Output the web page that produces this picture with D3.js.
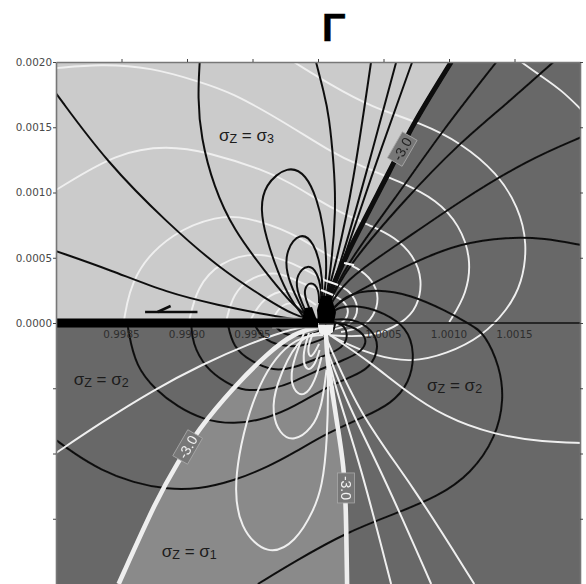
<!DOCTYPE html>
<html><head><meta charset="utf-8">
<script src="https://cdnjs.cloudflare.com/ajax/libs/d3/7.8.5/d3.min.js"></script>
<style>html,body{margin:0;padding:0;background:#fff;overflow:hidden}svg{display:block}</style>
</head><body><div id="chart"></div>
<script>
// All curves: [offset of x from 1, y], both in units of 1e-3.
const xTicks = [0.9985,0.9990,0.9995,1.0000,1.0005,1.0010,1.0015];
const xTickLabels = ["0.9985","0.9990","0.9995","1.0005","1.0010","1.0015"];
const xLabelValues = [0.9985,0.9990,0.9995,1.0005,1.0010,1.0015];
const yTicks = [0.0020,0.0015,0.0010,0.0005,0,-0.0005,-0.0010,-0.0015];
const yTickLabels = ["0.0020","0.0015","0.0010","0.0005","0.0000"];
const title = "Γ";

const thickBlack = [[1.017,2.0],[.719,1.517],[.581,1.226],[.199,.498],[.069,.176]];
const thickWhiteLeft = [[-1.522,-2.0],[-1.224,-1.333],[-1.071,-1.072],[-.918,-.82],[-.643,-.49],[-.383,-.23],[-.184,-.077],[0,-.031]];
const thickWhiteRight = [[.061,-.077],[.069,-.26],[.099,-.46],[.145,-.766],[.199,-1.103],[.214,-1.432],[.222,-2.0]];

const blackCurves = [
 [[-2.0,1.76],[-1.607,1.225],[-1.148,.766],[-.765,.429],[-.383,.176],[-.184,.061],[-.015,.008]],
 [[-2.0,.551],[-1.584,.406],[-1.148,.23],[-.765,.138],[-.383,.061],[-.054,.008]],
 [[-.903,2.0],[-.918,1.731],[-.895,1.425],[-.796,1.042],[-.643,.712],[-.413,.406],[-.184,.123],[-.038,.023]],
 [[-.107,.038],[-.13,.077],[-.207,.176],[-.306,.383],[-.398,.659],[-.44,.866],[-.41,1.06],[-.23,1.21],[-.09,1.14],[-.005,.942],[.042,.735],[.065,.506],[.061,.306],[.038,.153]],
 [[-.092,.054],[-.168,.199],[-.245,.383],[-.245,.56],[-.138,.7],[-.028,.62],[.027,.406],[.038,.23],[.023,.1]],
 [[-.084,.054],[-.107,.123],[-.165,.253],[-.165,.37],[-.077,.455],[-.005,.39],[.027,.253],[.023,.138]],
 [[-.054,.084],[-.092,.176],[-.11,.26],[-.054,.325],[.008,.26],[.008,.153]],
 [[-.015,2.0],[.046,1.762],[.084,1.593],[.122,1.21],[.138,.866],[.099,.406],[.046,.1]],
 [[.405,2.0],[.268,1.057],[.145,.483],[.038,.1]],
 [[.597,2.0],[.344,1.057],[.176,.467],[.046,.1]],
 [[.719,2.0],[.383,1.057],[.191,.467],[.054,.1]],
 [[1.362,2.0],[.941,1.463],[.581,.942],[.199,.429],[.054,.084]],
 [[1.798,2.0],[1.446,1.685],[1.079,1.379],[.658,.942],[.199,.406],[.054,.084]],
 [[2.012,1.425],[1.599,1.249],[1.094,.942],[.581,.582],[.199,.329],[.061,.077]],
 [[2.012,.597],[1.729,.651],[1.446,.659],[1.094,.613],[.711,.46],[.329,.253],[.145,.153],[.069,.061]],
 [[.069,.046],[.199,.22],[.451,.262],[.711,.214],[.964,.1],[1.17,-.015],[1.27,-.077],[1.39,-.337],[1.42,-.59],[1.36,-.873],[1.17,-1.155],[.91,-1.333],[.604,-1.455],[.222,-1.601],[-.184,-1.831],[-.459,-2.0]],
 [[.069,.038],[.145,.13],[.352,.13],[.5,.077],[.68,-.031],[.74,-.23],[.7,-.46],[.558,-.62],[.352,-.72],[.069,-.843],[-.184,-.996],[-.383,-1.103],[-.643,-1.21],[-.918,-1.275],[-1.148,-1.275],[-1.408,-1.226],[-1.66,-1.126],[-1.867,-.996],[-2.0,-.896]],
 [[.084,.023],[.268,.04],[.42,-.054],[.47,-.184],[.4,-.345],[.252,-.414],[.069,-.49],[-.184,-.643],[-.383,-.73],[-.643,-.78],[-.88,-.74],[-1.071,-.643],[-1.239,-.513],[-1.39,-.337],[-1.45,-.054],[-1.454,0]],
 [[.099,.008],[.25,-.015],[.385,-.107],[.34,-.22],[.199,-.283],[-.054,-.383],[-.184,-.452],[-.337,-.505],[-.566,-.525],[-.7,-.46],[-.86,-.345],[-.96,-.153],[-.968,0]],
 [[-.69,0],[-.65,-.184],[-.513,-.295],[-.337,-.37],[-.184,-.345],[.023,-.26],[.16,-.207],[.23,-.13],[.21,-.015],[.115,.008]],
 [[-.49,0],[-.43,-.115],[-.283,-.18],[-.13,-.18],[.023,-.135],[.125,-.069],[.13,0]],
 [[-.344,0],[-.27,-.092],[-.13,-.102],[.008,-.075],[.065,-.015]]
];
const whiteUpperCurves = [
 [[-.184,2.0],[.099,1.823],[.405,1.655],[.788,1.532],[1.094,1.379],[1.369,1.149],[1.53,.889],[1.6,.613],[1.56,.306],[1.446,.1],[1.247,-.107],[.987,-.235],[.711,-.305],[.428,-.25],[.199,-.153],[.069,-.077]],
 [[1.553,2.0],[1.691,1.9],[1.859,1.785],[2.012,1.632]],
 [[-2.0,1.953],[-1.66,1.985],[-1.278,1.96],[-.895,1.846],[-.666,1.769],[-.283,1.555],[.099,1.31],[.306,1.21],[.635,1.08],[.91,.942],[1.08,.75],[1.17,.5],[1.14,.23],[1.002,.008]],
 [[-2.0,1.019],[-1.53,1.31],[-1.148,1.36],[-.842,1.31],[-.413,1.172],[-.207,1.072],[0,.942],[.176,.843],[.428,.735],[.581,.66],[.73,.52],[.8,.33],[.76,.12],[.65,0],[.405,-.115],[.069,-.092]],
 [[-1.484,0],[-1.42,.383],[-1.11,.7],[-.765,.82],[-.566,.82],[-.184,.689],[0,.559],[.199,.46],[.29,.43],[.42,.33],[.47,.19],[.425,.046],[.329,-.04],[.176,-.069]],
 [[-.987,0],[-.925,.276],[-.75,.47],[-.459,.55],[-.184,.46],[.046,.329],[.153,.291],[.24,.25],[.32,.123],[.265,-.015],[.099,-.054]],
 [[-.704,0],[-.65,.23],[-.5,.36],[-.306,.395],[-.184,.329],[.023,.253],[.115,.214],[.2,.17],[.245,.084],[.185,-.015],[.061,-.038]],
 [[-.528,0],[-.42,.2],[-.23,.265],[-.13,.214],[-.015,.138]],
 [[-.36,0],[-.29,.138],[-.184,.165],[-.054,.084]]
];
const whiteLowerCurves = [
 [[2.012,-.919],[1.729,-.912],[1.346,-.858],[.964,-.72],[.658,-.513],[.405,-.306],[.145,-.13],[.061,-.069]],
 [[-2.0,-.996],[-1.66,-.766],[-1.255,-.513],[-.895,-.322],[-.513,-.153],[-.184,-.038],[0,-.015]],
 [[.038,-.092],[-.207,-.107],[-.49,-.49],[-.655,-1.203],[-.6,-1.58],[-.383,-1.79],[-.17,-1.68],[-.03,-1.432],[.031,-1.256],[.072,-.919],[.08,-.337],[.061,-.13]],
 [[.008,-.077],[-.153,-.107],[-.33,-.49],[-.35,-.689],[-.295,-.85],[-.184,-.91],[-.045,-.81],[.03,-.643],[.065,-.36]],
 [[-.107,-.077],[-.215,-.36],[-.195,-.513],[-.107,-.575],[-.02,-.445],[.027,-.26]],
 [[-.069,-.077],[-.125,-.26],[-.085,-.38],[-.02,-.32],[.012,-.207]],
 [[-.038,-.077],[-.087,-.207],[-.054,-.285],[.008,-.16]],
 [[.069,-.23],[.145,-.536],[.329,-1.103],[.558,-2.0]],
 [[.069,-.207],[.222,-.613],[.505,-1.18],[.864,-2.0]],
 [[.069,-.13],[.329,-.72],[.711,-1.226],[1.193,-2.0]]
];
const whiteBars = [
 [[.046,.329],[.153,.291]],
 [[.023,.253],[.115,.214]],
 [[.199,.46],[.275,.444]]
];
const sourceBlack = [[.023,.207],[.099,.207],[.138,.084],[.122,0],[0,0],[-.008,.1]];
const moundBlack = [[-.13,0],[-.1,.115],[-.046,.123],[0,0]];
const sourceWhite = [[0,-.015],[.115,-.015],[.115,-.07],[.07,-.1],[.01,-.08]];
const faultEnds = [[-2.0,0],[0,0]];
const faultTip = [[-.35,0],[.008,0]];
const faultRight = [[0,0],[2.012,0]];
const arrowShaft = [[-1.32,.084],[-.92,.084]];
const arrowBarb = [[-1.225,.084],[-1.125,.13]];

const contourTags = [
 {p:[.643,1.333],text:"-3.0",angle:-60,fill:"#777",ink:"#222"},
 {p:[-.995,-.95],text:"-3.0",angle:-60,fill:"#777",ink:"#f2f2f2"},
 {p:[.214,-1.264],text:"-3.0",angle:90,fill:"#777",ink:"#f2f2f2"}
];
const stateLabels = [
 {p:[-.756,1.395],sub:"3"},
 {p:[-1.865,-.475],sub:"2"},
 {p:[-1.192,-1.792],sub:"1"},
 {p:[.833,-.52],sub:"2"}
];

const W=586,H=584;
const margin={left:56,right:6,top:62,bottom:0};
const x=d3.scaleLinear().domain([0.998,1.002]).range([margin.left,W-margin.right]);
const y=d3.scaleLinear().domain([-0.002,0.002]).range([H-margin.bottom,margin.top]);
const X=d=>x(1+d[0]/1000), Y=d=>y(d[1]/1000);
const smooth=d3.line().x(X).y(Y).curve(d3.curveBasis);
const straight=d3.line().x(X).y(Y);

const svg=d3.select("#chart").append("svg").attr("width",W).attr("height",H);
const defs=svg.append("defs");
defs.append("filter").attr("id","soft").attr("x","-2%").attr("y","-2%").attr("width","104%").attr("height","104%")
  .append("feGaussianBlur").attr("stdDeviation",0.5);
defs.append("clipPath").attr("id","plot").append("rect")
  .attr("x",x.range()[0]).attr("y",y.range()[1]).attr("width",x.range()[1]-x.range()[0]).attr("height",y.range()[0]-y.range()[1]);

const plot=svg.append("g").attr("clip-path","url(#plot)").append("g").attr("filter","url(#soft)");
plot.append("rect").attr("x",x.range()[0]).attr("y",y.range()[1]).attr("width",x.range()[1]-x.range()[0]).attr("height",y.range()[0]-y.range()[1]).attr("fill","#676767");

// stress-state regions, bounded by the thick -3.0 contours
const lightRegion=[[-2.0,0],[-2.0,2.0],...thickBlack,[0,0]];
plot.append("path").attr("d",straight(lightRegion)+"Z").attr("fill","#cbcbcb");
plot.append("path").attr("d",smooth(thickWhiteLeft)+"L"+smooth(thickWhiteRight).slice(1)+"Z").attr("fill","#8a8a8a");

const stroke=(g,rows,color,width)=>g.selectAll(null).data(rows).join("path")
  .attr("d",smooth).attr("fill","none").attr("stroke",color).attr("stroke-width",width).attr("stroke-linejoin","round");

stroke(plot.append("g"),whiteUpperCurves,"#efefef",1.9);
stroke(plot.append("g"),[faultRight],"#111",1.7);
stroke(plot.append("g"),blackCurves,"#111",2);
stroke(plot.append("g"),[thickBlack],"#0a0a0a",5);
stroke(plot.append("g"),whiteLowerCurves,"#efefef",2);
stroke(plot.append("g"),[thickWhiteLeft,thickWhiteRight],"#eeeeee",4.6);
stroke(plot.append("g"),whiteBars,"#f4f4f4",2.2);
stroke(plot.append("g"),[faultTip],"#aaa",11);
stroke(plot.append("g"),[faultEnds],"#000",9);
plot.append("path").attr("d",straight(sourceBlack)+"Z").attr("fill","#050505");
plot.append("path").attr("d",straight(moundBlack)+"Z").attr("fill","#050505");
plot.append("path").attr("d",straight(sourceWhite)+"Z").attr("fill","#f0f0f0");
stroke(plot.append("g"),[arrowShaft],"#111",2.4);
stroke(plot.append("g"),[arrowBarb],"#111",2.6);

// contour value tags
const tag=plot.append("g").selectAll(null).data(contourTags).join("g")
  .attr("transform",d=>`translate(${X(d.p)},${Y(d.p)}) rotate(${d.angle})`);
tag.append("rect").attr("x",-15).attr("y",-8.5).attr("width",30).attr("height",17)
  .attr("fill",d=>d.fill).attr("stroke","#a8a8a8").attr("stroke-width",0.8);
tag.append("text").attr("text-anchor","middle").attr("dy","0.36em")
  .attr("font-family","'Liberation Sans',sans-serif").attr("font-size",14).attr("fill",d=>d.ink).text(d=>d.text);

// axes
const axisStyle=g=>{g.selectAll(".domain").attr("stroke","#777").attr("stroke-width",1.6);
  g.selectAll(".tick line").attr("stroke","#444").attr("stroke-width",1);
  g.selectAll("text").attr("font-family","'DejaVu Sans',sans-serif").attr("font-size",10.4).attr("fill","#4a4a4a");};
svg.append("g").attr("transform",`translate(0,${y.range()[1]})`)
  .call(d3.axisTop(x).tickValues(xTicks).tickSize(3).tickFormat("").tickSizeOuter(0)).call(axisStyle);
svg.append("g").attr("transform",`translate(${x.range()[1]},0)`)
  .call(d3.axisRight(y).tickValues(yTicks).tickSize(3).tickFormat("").tickSizeOuter(0)).call(axisStyle);
svg.append("g").attr("transform",`translate(${x.range()[0]},0)`)
  .call(d3.axisLeft(y).tickValues(yTicks).tickSize(3).tickPadding(1).tickSizeOuter(0)
    .tickFormat((d,i)=>yTickLabels[i]||"")).call(axisStyle);

svg.append("g").selectAll(null).data(xLabelValues).join("text")
  .attr("x",d=>x(d)).attr("y",y(0)+14.5).attr("text-anchor","middle")
  .attr("font-family","'DejaVu Sans',sans-serif").attr("font-size",10.4).attr("fill","#2e2e2e")
  .text((d,i)=>xTickLabels[i]);

// region labels
const lab=svg.append("g").selectAll(null).data(stateLabels).join("text")
  .attr("x",d=>X(d.p)).attr("y",d=>Y(d.p))
  .attr("font-family","'Liberation Sans',sans-serif").attr("font-size",17).attr("fill","#1c1c1c");
lab.append("tspan").text("σ");
lab.append("tspan").attr("font-size",12.5).attr("dy",2).text("Z");
lab.append("tspan").attr("dy",-2).text(" = σ");
lab.append("tspan").attr("font-size",12.5).attr("dy",2).text(d=>d.sub);

svg.append("text").attr("x",(x(1.0000)+x(1.0005))/2).attr("y",y.range()[1]-21).attr("text-anchor","middle")
  .attr("font-family","'Liberation Sans',sans-serif").attr("font-weight",700).attr("font-size",39).attr("fill","#000")
  .attr("stroke","#000").attr("stroke-width",0.5).attr("dx",-17).text(title);
</script></body></html>
